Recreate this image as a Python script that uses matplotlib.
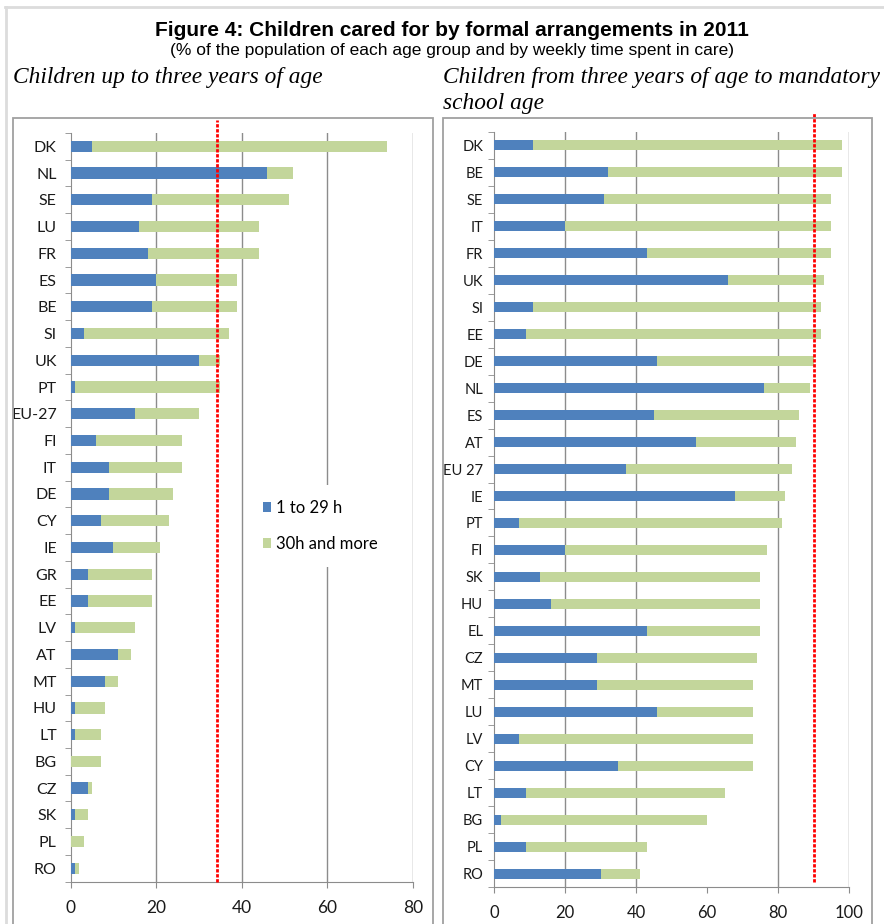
import numpy as np
import matplotlib
matplotlib.use("Agg")
import matplotlib.pyplot as plt
from matplotlib.patches import Rectangle, Patch
from matplotlib.lines import Line2D

# data: % of children in formal care, 2011
left_countries = ['DK', 'NL', 'SE', 'LU', 'FR', 'ES', 'BE', 'SI', 'UK', 'PT', 'EU-27', 'FI', 'IT', 'DE',
                  'CY', 'IE', 'GR', 'EE', 'LV', 'AT', 'MT', 'HU', 'LT', 'BG', 'CZ', 'SK', 'PL', 'RO']
left_short = [5, 46, 19, 16, 18, 20, 19, 3, 30, 1, 15, 6, 9, 9, 7, 10, 4, 4, 1, 11, 8, 1, 1, 0, 4, 1, 0, 1]
left_long = [69, 6, 32, 28, 26, 19, 20, 34, 5, 34, 15, 20, 17, 15, 16, 11, 15, 15, 14, 3, 3, 7, 6, 7, 1, 3, 3, 1]

right_countries = ['DK', 'BE', 'SE', 'IT', 'FR', 'UK', 'SI', 'EE', 'DE', 'NL', 'ES', 'AT', 'EU 27', 'IE',
                   'PT', 'FI', 'SK', 'HU', 'EL', 'CZ', 'MT', 'LU', 'LV', 'CY', 'LT', 'BG', 'PL', 'RO']
right_short = [11, 32, 31, 20, 43, 66, 11, 9, 46, 76, 45, 57, 37, 68, 7, 20, 13, 16, 43, 29, 29, 46, 7, 35, 9, 2, 9, 30]
right_long = [87, 66, 64, 75, 52, 27, 81, 83, 44, 13, 41, 28, 47, 14, 74, 57, 62, 59, 32, 45, 44, 27, 66, 38, 56, 58, 34, 11]

left_target = 34.3
right_target = 90

series_names = ['1 to 29 h', '30h and more']
BLUE = '#4F81BD'
GREEN = '#C3D69B'
GRID = '#8c8c8c'

W, H = 884, 924
fig = plt.figure(figsize=(W / 100, H / 100), dpi=100)

def fx(px):
    return px / W

def fy(py):
    return 1 - py / H

# outer frame + panel boxes
fig.add_artist(Line2D([fx(5), 1], [fy(7), fy(7)], color='#dcdcdc', lw=2))
fig.add_artist(Line2D([fx(6), fx(6)], [0, fy(7)], color='#dcdcdc', lw=2))
fig.add_artist(Rectangle((fx(13), fy(930)), fx(433 - 13), (930 - 118) / H, fill=False,
                         edgecolor='#a0a0a0', lw=1.3))
fig.add_artist(Rectangle((fx(443), fy(930)), fx(872 - 443), (930 - 118) / H, fill=False,
                         edgecolor='#a0a0a0', lw=1.3))

fig.text(0.511, fy(30), 'Figure 4: Children cared for by formal arrangements in 2011', ha='center',
         va='center', fontsize=15, fontweight='bold', family='Liberation Sans')
fig.text(0.511, fy(51), '(% of the population of each age group and by weekly time spent in care)',
         ha='center', va='center', fontsize=12.5, family='Liberation Sans')
fig.text(fx(13), fy(77), 'Children up to three years of age', ha='left', va='center', fontsize=16.8,
         style='italic', family='Liberation Serif')
fig.text(fx(443), fy(77), 'Children from three years of age to mandatory', ha='left', va='center',
         fontsize=16.8, style='italic', family='Liberation Serif')
fig.text(fx(443), fy(104), 'school age', ha='left', va='center', fontsize=16.8, style='italic',
         family='Liberation Serif')


def panel(rect, countries, short, long_, xmax, grid_x, target, bar_h, ylab_size, xlab_size, ypad,
          red_span):
    ax = fig.add_axes(rect)
    n = len(countries)
    y = np.arange(n)
    ax.barh(y, short, height=bar_h, color=BLUE, zorder=3)
    ax.barh(y, long_, left=short, height=bar_h, color=GREEN, zorder=3)
    ax.set_xlim(0, xmax)
    ax.set_ylim(n - 0.5, -0.5)
    for g in grid_x:
        ax.axvline(g, color=GRID, lw=1, zorder=1)
    ax.axvline(target, ymin=red_span[0], ymax=red_span[1], color='red', ls=(0, (1.2, 0.6)), lw=2,
               zorder=5, clip_on=False)
    for s in ['top', 'right']:
        ax.spines[s].set_visible(False)
    for s in ['left', 'bottom']:
        ax.spines[s].set_color(GRID)
    ax.set_yticks(y)
    ax.set_yticklabels(countries, family='Lato', fontsize=ylab_size, color='#1a1a1a')
    ax.set_yticks(np.arange(-0.5, n, 1), minor=True)
    ax.tick_params(axis='y', which='major', length=0, pad=ypad)
    ax.tick_params(axis='y', which='minor', length=4, color=GRID, direction='out')
    ax.set_xticks(np.arange(0, xmax + 1, 20))
    ax.tick_params(axis='x', length=4, color=GRID, pad=9, labelsize=xlab_size, labelcolor='#1a1a1a')
    for lab in ax.get_xticklabels():
        lab.set_family('Lato')
    return ax


axl = panel([fx(70.7), fy(881.7), fx(412.7 - 70.7), (881.7 - 133) / H], left_countries, left_short,
            left_long, 80, [20, 40, 60, 80], left_target, 0.42, 11.5, 12.5, 10, (0, 1.017))
axr = panel([fx(494.3), fy(887.3), fx(849 - 494.3), (887.3 - 131.7) / H], right_countries, right_short,
            right_long, 100, [20, 40, 80, 100], right_target, 0.38, 10.5, 12, 8, (0.0074, 1.0265))

handles = [Patch(facecolor=BLUE), Patch(facecolor=GREEN)]
leg = axl.legend(handles, series_names, loc='upper left', bbox_to_anchor=(0.518, 0.53),
                 borderaxespad=0, frameon=True, fancybox=False, facecolor='white', edgecolor='none',
                 framealpha=1, handlelength=0.5, handleheight=0.6, handletextpad=0.3,
                 labelspacing=1.2, borderpad=0.9, prop={'family': 'Lato', 'size': 12})
leg.set_zorder(4)

fig.savefig('out.png', dpi=100)
